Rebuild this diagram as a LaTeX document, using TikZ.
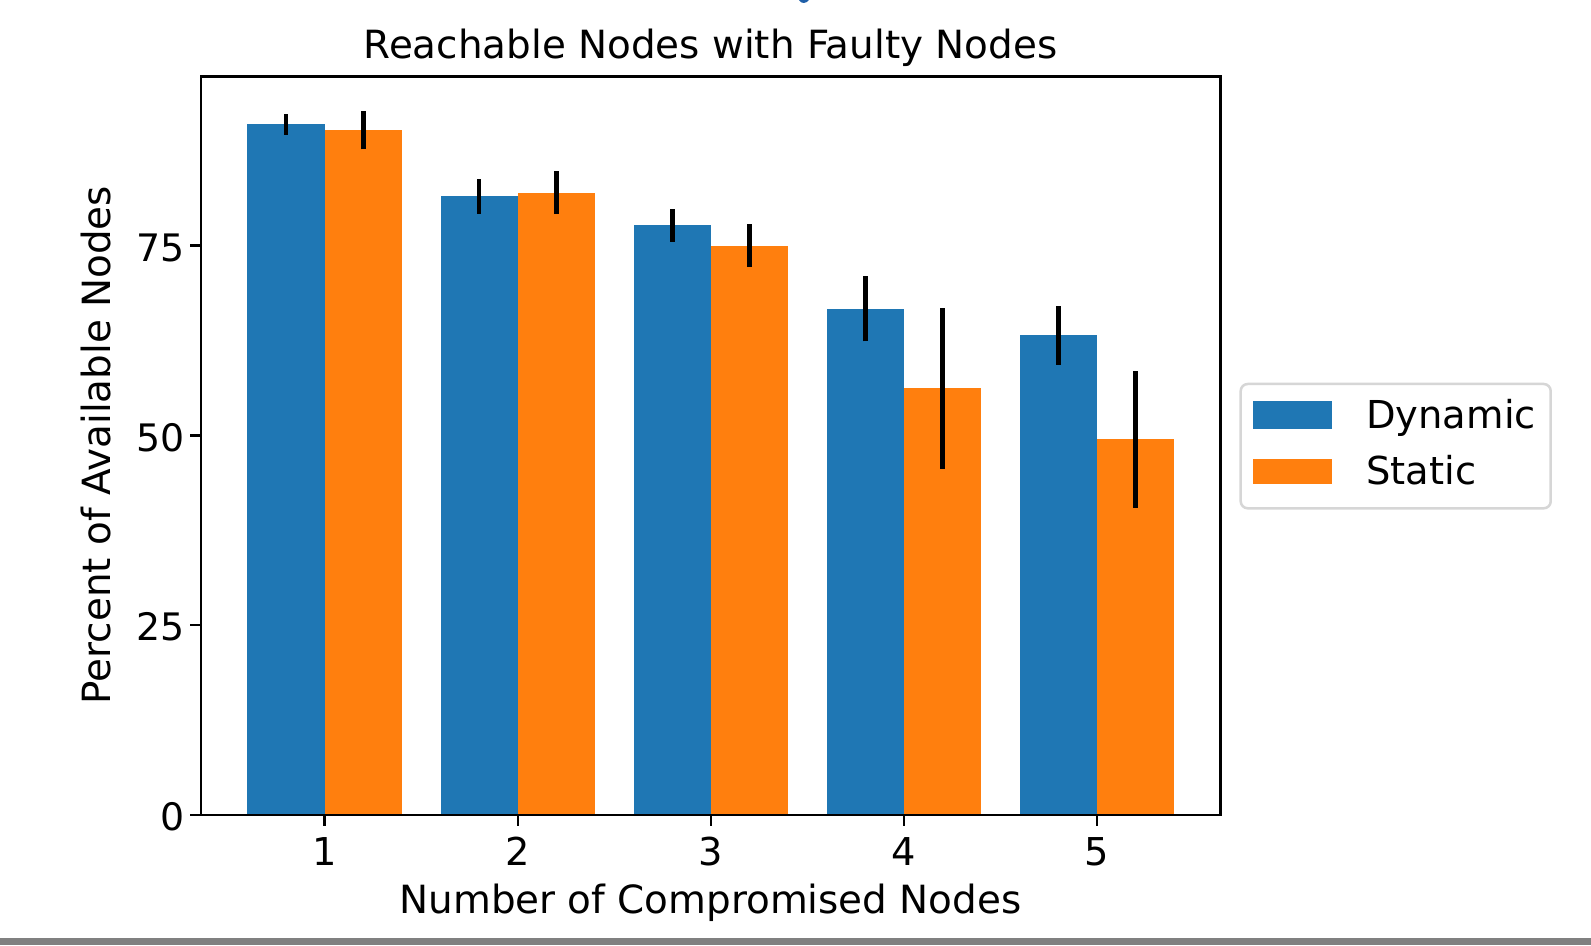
\documentclass[tikz,border=0pt]{standalone}
\usepackage{fontspec}
\setmainfont{DejaVu Sans}
\definecolor{mplblue}{HTML}{1F77B4}
\definecolor{mplorange}{HTML}{FF7F0E}
\definecolor{legframe}{HTML}{D6D6D6}
\definecolor{edgebar}{HTML}{808080}
\definecolor{linkblue}{HTML}{1F5FA8}
\tikzset{
  axisline/.style={line width=2.5bp, black, line cap=rect},
  tickmark/.style={line width=2.5bp, black},
  errbar/.style={line width=4.5bp, black},
  ticklab/.style={inner sep=0pt, font=\fontsize{38}{44}\selectfont},
  xticklab/.style={inner sep=0pt, font=\fontsize{38.5}{44}\selectfont},
  labeltext/.style={inner sep=0pt, font=\fontsize{39}{46}\selectfont},
  legtext/.style={inner sep=0pt, font=\fontsize{38.6}{46}\selectfont, anchor=base west},
}
\begin{document}
\begin{tikzpicture}[x=1bp, y=1bp]
\useasboundingbox (0,0) rectangle (1591,945);
\fill[white] (0,0) rectangle (1591,945);
% strip along the bottom edge
\fill[edgebar] (0,0) rectangle (1591,7);
% tail of a glyph cut by the top edge
\fill[linkblue] (799,945) .. controls (801,941) and (806,941) .. (809,945) -- cycle;

% data coordinates: x = group index, y = percent
\begin{scope}[shift={(131.6,130)}, x=193.1bp, y=7.59bp]
  % bars (value, error) for Dynamic and Static
  \foreach \g/\dv/\de/\sv/\se in {1/91.0/1.4/90.2/2.5, 2/81.5/2.3/82.0/2.85,
      3/77.7/2.2/75.0/2.8, 4/66.7/4.3/56.2/10.6, 5/63.2/3.9/49.5/9.05}{
    \fill[mplblue] (\g-0.4,0) rectangle (\g,\dv);
    \fill[mplorange] (\g,0) rectangle (\g+0.4,\sv);
    \draw[errbar] (\g-0.2,\dv-\de) -- (\g-0.2,\dv+\de);
    \draw[errbar] (\g+0.2,\sv-\se) -- (\g+0.2,\sv+\se);
    \draw[tickmark] (\g,0) -- ++(0,-11bp);
    \node[xticklab, anchor=base] (xt\g) at ([yshift=-50bp]\g,0) {\g};
  }
  \foreach \v in {0,25,50,75}{
    \draw[tickmark] (0.36,\v) -- ++(-11bp,0);
    \node[ticklab, anchor=base east] (yt\v) at ([xshift=-16.5bp,yshift=-15.7bp]0.36,\v) {\v};
  }
  \draw[axisline] (0.36,0) rectangle (5.64,97.3);
\end{scope}

% titles
\node[labeltext, anchor=base] (title) at (710.5,886.5) {Reachable Nodes with Faulty Nodes};
\node[labeltext, anchor=base] (xlabel) at (710.5,32) {Number of Compromised Nodes};
\node[labeltext, anchor=base, rotate=90] (ylabel) at (110,500) {Percent of Available Nodes};

% legend
\draw[legframe, line width=2.5bp, rounded corners=7bp, fill=white] (1240.7,436.7) rectangle (1550.7,561);
\fill[mplblue] (1253.3,516) rectangle (1331.7,544);
\fill[mplorange] (1253.3,460.7) rectangle (1331.7,486);
\node[legtext] (legdyn) at (1366,516) {Dynamic};
\node[legtext] (legsta) at (1366,460) {Static};
\end{tikzpicture}
\end{document}
